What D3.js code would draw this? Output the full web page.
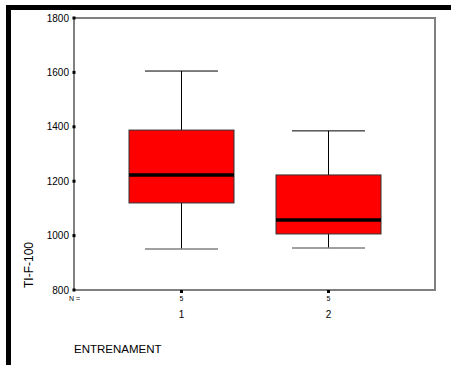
<!DOCTYPE html>
<meta charset="utf-8">
<style>
  body { margin: 0; background: #fff; }
  text { font-family: "Liberation Sans", Arial, sans-serif; }
</style>
<body>
<div id="chart"></div>
<script src="https://d3js.org/d3.v7.min.js"></script>
<script>

var groups = ["1", "2"]
var counts = ["5", "5"]
var lowWhisker = [951, 954]
var q1 = [1120, 1006]
var medians = [1223, 1057]
var q3 = [1388, 1223]
var highWhisker = [1605, 1385]
var yTicks = [800, 1000, 1200, 1400, 1600, 1800]

var width = 451
    height = 365

var svg = d3.select("#chart")
  .append("svg")
    .attr("width", width)
    .attr("height", height)

// black frame on the top and left edge
svg.append("rect").attr("x", 6).attr("y", 5).attr("width", width - 6).attr("height", 5).attr("fill", "#000")
svg.append("rect").attr("x", 6).attr("y", 5).attr("width", 5).attr("height", height - 5).attr("fill", "#000")

var plotLeft = 74, plotRight = 435, plotTop = 18, plotBottom = 290

var y = d3.scaleLinear().domain([800, 1800]).range([plotBottom, plotTop])
// group centres
var x = d3.scaleLinear().domain([1, 2]).range([181.5, 328.5])

// plot frame
svg.append("rect")
  .attr("x", plotLeft).attr("y", plotTop)
  .attr("width", plotRight - plotLeft).attr("height", plotBottom - plotTop)
  .attr("fill", "none").attr("stroke", "#808080").attr("stroke-width", 2)

var boxHalf = 52.5, capHalf = 36.5

groups.forEach(function(g, i) {
  var cx = x(+g)
  // whisker
  svg.append("line").attr("x1", cx).attr("x2", cx)
    .attr("y1", y(highWhisker[i])).attr("y2", y(lowWhisker[i]))
    .attr("stroke", "#000").attr("stroke-width", 1)
  svg.append("line").attr("x1", cx - capHalf).attr("x2", cx + capHalf)
    .attr("y1", y(highWhisker[i])).attr("y2", y(highWhisker[i]))
    .attr("stroke", "#000").attr("stroke-width", 1)
  svg.append("line").attr("x1", cx - capHalf).attr("x2", cx + capHalf)
    .attr("y1", y(lowWhisker[i])).attr("y2", y(lowWhisker[i]))
    .attr("stroke", "#808080").attr("stroke-width", 1.5)
  // box
  svg.append("rect")
    .attr("x", cx - boxHalf).attr("y", y(q3[i]))
    .attr("width", 2 * boxHalf).attr("height", y(q1[i]) - y(q3[i]))
    .attr("fill", "#ff0000").attr("stroke", "#333").attr("stroke-width", 1)
  svg.append("line").attr("x1", cx - boxHalf).attr("x2", cx + boxHalf)
    .attr("y1", y(medians[i])).attr("y2", y(medians[i]))
    .attr("stroke", "#000").attr("stroke-width", 3.5)
})

// y ticks
yTicks.forEach(function(t) {
  svg.append("rect").attr("x", plotLeft - 1.5).attr("y", y(t) - 1.5)
    .attr("width", 3).attr("height", 3).attr("fill", "#000")
  svg.append("text").attr("x", plotLeft - 5).attr("y", y(t) + 3.5)
    .attr("text-anchor", "end").attr("font-size", 10).attr("fill", "#000")
    .text(t)
})

// x ticks
groups.forEach(function(g, i) {
  var cx = x(+g)
  svg.append("rect").attr("x", cx - 1.5).attr("y", plotBottom)
    .attr("width", 3).attr("height", 3).attr("fill", "#000")
  svg.append("text").attr("x", cx).attr("y", 301)
    .attr("text-anchor", "middle").attr("font-size", 7).attr("fill", "#000")
    .text(counts[i])
  svg.append("text").attr("x", cx).attr("y", 318)
    .attr("text-anchor", "middle").attr("font-size", 10).attr("fill", "#000")
    .text(g)
})
svg.append("text").attr("x", plotLeft - 5).attr("y", 301)
  .attr("font-size", 7).attr("fill", "#000").text("N =")

svg.append("text").attr("x", plotLeft).attr("y", 353)
  .attr("font-size", 11.5).attr("fill", "#000").text("ENTRENAMENT")

svg.append("text")
  .attr("transform", "translate(33,265) rotate(-90)")
  .attr("text-anchor", "middle").attr("font-size", 12).attr("fill", "#000")
  .text("TI-F-100")

</script>
</body>
